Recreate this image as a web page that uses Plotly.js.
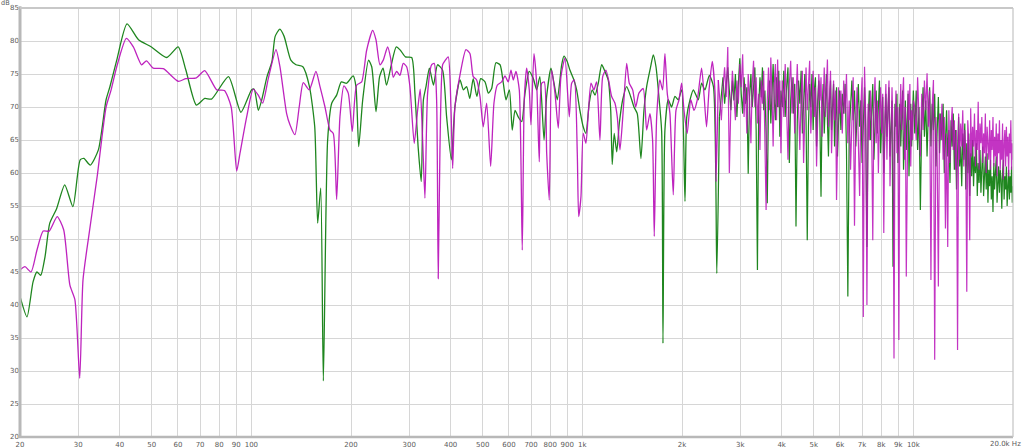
<!DOCTYPE html>
<html><head><meta charset="utf-8">
<script src="https://cdn.plot.ly/plotly-3.0.1.min.js"></script>
<style>html,body{margin:0;padding:0;background:#fff;}#chart{width:1024px;height:448px;}</style>
</head><body><div id="chart"></div>
<script>
// ---- data: [frequency Hz, level dB] ----
const greenLow = [[20,41.3],[21.0,38.2],[21.9,43.5],[22.5,45.0],[23.1,44.5],[23.8,47.3],[24.6,52.4],[25.8,54.6],[27.3,58.2],[28.9,54.9],[30.4,62.0],[31.2,62.2],[32.6,61.2],[34.5,63.5],[36.4,71.1],[37.4,73.1],[39.2,77.1],[42.1,82.6],[45.6,80.2],[49.9,79.1],[55.5,77.5],[60.1,79.1],[63.4,75.6],[68.2,70.3],[72.3,71.3],[75.8,71.2],[85.3,74.6],[93.0,69.2],[100.2,72.6],[102,72.7],[105,69.5],[107.5,71.1],[111.5,74.6],[115.4,76.9],[118,80.7],[121.9,81.8],[125.6,80.7],[131.6,77.1],[136.4,76.4],[143.1,76.1],[149.8,73.1],[155.4,67.0],[158.6,52.4],[162.0,57.7],[165.0,28.5],[170,65.0],[175,70.6],[181,71.8],[187,73.8],[194,73.6],[203,74.7],[207,73.1],[211,64.0],[217,71.1],[226,77.1],[231,76.1],[238,69.3],[244,74.6],[250,75.9],[256,73.3],[264,76.1],[274,79.1],[282,78.6],[292,77.6],[305,77.5],[312,72.1],[319,64.0],[326,58.7],[331,71.1],[337,73.1],[345,75.9],[355,73.3],[365,76.4],[378,75.6],[389,68.5],[402,62.0],[412,70.0],[427,74.1],[437,72.6],[447,73.1],[457,71.3],[468,74.3],[480,71.6],[493,74.3],[508,73.8],[520,72.1],[532,72.8],[548,76.7],[564,76.4],[577,73.6],[588,71.1],[602,72.6],[614,66.5],[626,69.5],[640,68.5],[656,67.8],[671,72.1],[691,75.4],[711,74.3],[728,72.6],[744,74.6],[766,65.0],[780,71.6],[804,75.9],[821,73.6],[840,71.1],[866,76.4],[880,77.7],[900,76.9],[917,75.6],[943,74.1],[961,72.6],[983,69.5],[1006,67.0],[1025,66.0],[1049,70.6],[1071,72.6],[1092,71.8],[1117,73.6],[1144,76.4],[1170,75.4],[1197,74.1],[1218,69.5],[1231,61.3],[1248,66.0],[1270,63.2],[1293,67.5],[1324,71.1],[1361,73.1],[1399,71.6],[1432,70.0],[1465,69.0],[1503,62.2],[1535,69.5],[1564,73.1],[1608,76.1],[1638,77.9],[1669,76.1],[1703,71.6],[1736,66.3],[1752,34.2],[1776,66.5],[1817,71.1],[1860,70.0],[1904,71.6],[1949,71.1],[1995,72.6],[2042,55.7],[2067,68.5],[2115,71.1],[2164,72.6],[2240,71.1],[2292,73.6],[2346,72.6],[2419,74.8],[2489,73.1],[2548,44.8],[2594,68.5]];

const magentaLow = [[20,45.3],[20.7,45.8],[21.6,45.0],[22.5,48.3],[23.5,51.2],[24.5,51.2],[25.9,53.4],[27.1,51.4],[28.3,43.0],[29.3,40.8],[30.3,28.9],[31.0,43.8],[32.3,50.6],[34.2,59.4],[36.4,70.0],[37.7,72.6],[39.2,76.1],[41.9,80.4],[44.0,79.1],[46.6,76.4],[48.2,77.0],[50.5,75.9],[54.2,75.8],[60.1,73.9],[63.4,74.3],[68.2,74.4],[72.3,75.5],[78.6,72.6],[82.9,72.5],[86.9,70.0],[90.3,60.3],[92.4,63.0],[96.8,68.5],[101.3,72.7],[104.9,71.8],[108.2,70.6],[112.5,74.3],[118.7,78.7],[122.0,76.1],[127.8,69.0],[130.8,67.3],[135.4,65.8],[139.5,70.0],[143.5,73.7],[149.6,72.6],[156.7,75.4],[161.2,73.1],[166.9,70.0],[172.8,66.5],[176.8,66.0],[181.0,56.0],[185.2,68.5],[190.4,73.2],[196.2,72.1],[201.8,66.3],[208.0,73.3],[215.4,73.8],[223.0,78.6],[232.5,81.6],[237.9,80.2],[244.6,76.4],[250.3,77.1],[258.0,79.1],[263.5,77.4],[268.3,74.5],[274.7,75.4],[281.1,74.8],[287.6,76.6],[294.5,76.1],[301.3,73.1],[310.5,64.5],[317.9,69.5],[323.7,72.7],[329.2,65.0],[334.5,56.2],[340.8,72.1],[350.4,76.4],[356.8,76.6],[362.8,71.1],[366.9,44.0],[371.3,63.5],[378.3,76.4],[384.4,77.0],[393.3,77.6],[400.8,70.0],[405.6,60.7],[412.1,70.0],[426.7,74.8],[444.9,78.7],[457.4,78.1],[468.0,74.6],[479.2,74.1],[490.5,71.6],[501.9,67.0],[513.9,70.6],[528.4,61.0],[540.7,70.6],[553.2,73.3],[570.4,73.8],[583.7,74.7],[597.2,73.8],[608.6,75.6],[618.4,74.1],[630.1,75.4],[644.8,72.6],[658.3,48.3],[667.6,71.1],[678.8,75.9],[691.2,72.6],[699.4,67.3],[714.2,78.1],[727.7,73.6],[741.0,61.7],[753.5,73.6],[767.3,73.8],[780.2,63.0],[794.3,55.9],[807.7,75.6],[826.5,72.1],[845.7,66.8],[861.7,74.6],[886.0,77.4],[913.0,68.5],[928.3,73.6],[945.3,74.1],[965.3,63.0],[974.7,53.4],[990.3,56.4],[1006,66.0],[1025,64.5],[1042,69.0],[1062,73.6],[1084,72.6],[1104,73.8],[1130,65.0],[1152,74.6],[1178,75.6],[1203,73.8],[1226,71.6],[1254,70.6],[1275,68.5],[1299,63.5],[1329,69.5],[1361,76.6],[1386,73.6],[1419,72.6],[1449,70.0],[1482,72.1],[1527,72.8],[1564,66.5],[1600,69.0],[1630,65.0],[1649,50.4],[1677,68.5],[1715,74.1],[1748,72.6],[1776,78.1],[1805,72.1],[1839,69.0],[1882,56.7],[1918,69.5],[1959,71.1],[1995,73.6],[2028,69.5],[2074,66.0],[2125,71.1],[2174,69.5],[2225,71.1],[2292,75.9],[2333,71.6],[2372,67.0],[2414,72.6],[2468,76.9],[2517,72.1],[2535,58.7],[2575,74.1]];

// high-frequency part: shared frequency list (Hz) and levels (dB) of both traces
const hfHz = [
2630,2660,2690,2720,2750,2780,2810,2840,2870,2900,2930,2960,2990,3020,3050,3080,3110,3140,3170,3200,
3230,3260,3290,3320,3350,3380,3410,3440,3470,3500,3530,3560,3590,3620,3650,3680,3710,3740,3770,3800,
3830,3860,3890,3920,3950,3980,
4020,4060,4100,4140,4180,4220,4260,4300,4340,4380,4420,4460,4500,4540,4580,4620,4660,4700,4740,4780,
4820,4860,4900,4940,4980,5020,5060,5100,5140,5180,5220,5260,5300,5340,5380,5420,5460,5500,5540,5580,
5620,5660,5700,5740,5780,5820,5860,5900,5940,5980,
6040,6100,6160,6220,6280,6340,6400,6460,6520,6580,6640,6700,6760,6820,6880,6940,7000,7060,7120,7180,
7240,7300,7360,7420,7480,7540,7600,7660,7720,7780,7840,7900,7960,8020,8080,8140,8200,8260,8320,8380,
8440,8500,8560,8620,8680,8740,8800,8860,8920,8980,9040,9100,9160,9220,9280,9340,9400,9460,9520,9580,
9640,9700,9760,9820,9880,9940,10000,
10100,10200,10300,10400,10500,10600,10700,10800,10900,11000,11100,11200,11300,11400,11500,11600,11700,11800,11900,12000,
12100,12200,12300,12400,12500,12600,12700,12800,12900,13000,13100,13200,13300,13400,13500,13600,13700,13800,13900,14000,
14100,14200,14300,14400,14500,14600,14700,14800,14900,15000,15100,15200,15300,15400,15500,15600,15700,15800,15900,16000,
16100,16200,16300,16400,16500,16600,16700,16800,16900,17000,17100,17200,17300,17400,17500,17600,17700,17800,17900,18000,
18100,18200,18300,18400,18500,18600,18700,18800,18900,19000,19100,19200,19300,19400,19500,19600,19700,19800,19900,20000];

const greenHfDb = [
72.0,74.5,70.5,73.0,76.0,72.5,69.5,74.0,71.0,75.0,68.5,73.5,77.4,72.0,69.0,74.5,70.5,73.0,59.9,71.5,
75.0,70.0,73.5,76.0,66.5,45.3,70.0,74.5,71.5,76.0,69.5,72.5,66.0,55.4,70.5,74.0,67.5,73.0,76.5,71.0,
68.0,74.5,70.0,75.5,65.5,72.5,
70.0,75.5,68.5,73.0,76.0,61.5,71.0,74.5,69.0,73.5,51.9,68.0,74.0,70.5,75.5,66.0,72.0,75.0,68.5,49.8,
67.0,73.5,70.0,75.0,66.5,72.5,74.5,64.0,71.0,74.0,67.5,56.4,69.5,73.5,66.0,72.0,75.0,68.0,62.5,71.0,
74.0,66.5,70.5,73.5,64.0,70.0,73.0,62.5,69.5,72.5,
66.5,72.0,69.0,73.5,63.5,41.3,66.0,71.5,74.0,68.0,72.5,64.0,70.0,73.5,67.0,71.0,61.5,69.5,73.0,66.5,
48.8,68.0,72.5,65.0,70.5,73.5,62.0,69.0,72.5,66.0,70.5,74.0,63.0,68.5,71.5,60.0,67.5,72.0,65.5,70.0,
73.0,62.5,68.0,71.0,45.8,64.5,70.5,67.0,72.0,61.5,66.0,70.5,64.0,69.5,72.5,60.5,67.0,71.0,63.5,68.5,
72.0,59.5,66.5,70.5,64.0,69.0,72.5,
66.0,72.5,63.5,70.0,54.4,68.0,73.0,65.5,71.0,62.5,69.5,73.0,64.0,70.5,66.5,72.0,61.0,68.5,71.5,63.0,
69.0,65.0,70.5,60.0,67.0,69.5,62.5,66.5,58.5,68.0,64.0,69.0,60.5,66.5,57.5,65.5,68.5,61.0,64.0,58.0,
66.0,62.0,67.5,57.5,64.5,60.0,66.0,56.5,63.0,59.5,65.0,58.0,62.5,60.0,64.5,56.5,61.5,58.5,63.5,57.0,
61.0,64.0,56.5,60.0,62.5,57.5,63.0,55.5,60.5,58.0,62.0,56.0,59.5,54.1,61.5,57.5,60.0,62.5,55.5,59.0,
61.0,57.0,60.5,59.0,54.6,60.0,62.0,56.0,59.5,57.5,61.0,55.0,58.5,60.5,56.0,59.5,57.0,61.0,55.5,58.0];

const magentaHfDb = [
68.0,73.0,76.0,71.5,79.1,60.0,70.5,75.5,72.0,68.0,74.0,70.5,76.5,73.0,78.0,68.5,73.5,66.0,75.0,71.0,
64.5,73.5,77.0,70.0,74.5,67.5,72.0,63.5,74.0,70.5,75.5,66.0,54.4,71.0,76.0,69.5,77.5,72.0,64.0,73.5,
76.5,68.0,77.2,70.0,74.0,63.0,
74.0,68.5,76.5,70.0,62.0,73.5,77.0,69.0,74.5,66.0,72.5,76.5,70.0,63.5,72.0,75.5,61.5,71.5,76.0,69.5,
74.0,77.0,66.0,72.0,75.5,68.5,73.0,61.0,70.5,75.0,71.0,74.5,65.5,72.0,76.0,68.5,73.0,77.2,67.0,72.5,
75.5,63.0,70.5,74.0,68.0,72.5,55.9,67.0,73.0,69.0,
72.5,66.0,74.0,69.0,75.0,64.5,71.0,60.5,69.5,74.5,52.0,68.0,73.0,66.5,56.5,70.0,74.5,38.2,76.1,68.5,
40.0,70.5,65.0,72.5,67.5,49.8,70.0,74.5,64.5,71.0,60.0,69.0,73.0,66.0,72.0,50.9,68.5,73.5,62.0,70.0,
74.0,58.0,69.0,73.0,66.0,31.9,67.5,72.5,63.0,70.0,34.7,68.0,73.5,66.5,71.5,74.5,62.0,70.0,44.3,66.5,
72.5,68.0,73.5,61.0,69.5,65.0,71.0,
70.0,65.0,74.5,68.0,62.5,72.0,66.5,74.0,69.5,75.1,67.0,72.5,43.8,70.0,74.1,31.7,68.5,63.0,42.8,69.0,
65.0,70.5,62.0,68.5,51.6,66.0,48.8,69.5,61.5,67.0,70.0,63.5,68.0,60.5,66.5,33.2,69.0,62.0,67.5,64.0,
69.5,61.0,66.5,63.0,42.0,68.0,65.0,49.8,69.8,62.5,67.0,64.0,69.0,61.0,66.5,63.5,70.8,60.5,67.5,64.5,
68.5,61.5,66.0,63.0,69.0,60.0,67.0,64.5,62.0,68.0,60.5,66.5,63.5,68.5,61.0,65.5,62.5,67.5,59.5,66.0,
63.0,68.0,60.5,65.0,62.0,67.5,59.0,64.5,66.5,61.0,67.0,62.5,65.5,59.5,66.0,63.0,68.0,60.5,64.5,62.0];

const xTickVals = [20,30,40,50,60,70,80,90,100,200,300,400,500,600,700,800,900,1000,2000,3000,4000,5000,6000,7000,8000,9000,10000,20000];
const xTickText = ['20','30','40','50','60','70','80','90','100','200','300','400','500','600','700','800','900','1k','2k','3k','4k','5k','6k','7k','8k','9k','10k',''];
const yTickVals = [20,25,30,35,40,45,50,55,60,65,70,75,80,85];

// ---- build traces: smooth low part, straight segments for the dense part ----
const GREEN = '#1f861f', MAGENTA = '#b810b8';
function lowTrace(pts, color, op) {
  return {x: pts.map(p => p[0]), y: pts.map(p => p[1]), type: 'scatter', mode: 'lines',
    line: {color: color, width: 1.3, shape: 'spline', smoothing: 0.6}, opacity: op, hoverinfo: 'skip'};
}
function hfTrace(pts, db, color, op) {
  const last = pts[pts.length - 1];
  return {x: [last[0]].concat(hfHz), y: [last[1]].concat(db), type: 'scatter', mode: 'lines',
    line: {color: color, width: 1.2}, opacity: op, hoverinfo: 'skip'};
}
const traces = [
  lowTrace(greenLow, GREEN, 1), hfTrace(greenLow, greenHfDb, GREEN, 1),
  lowTrace(magentaLow, MAGENTA, 0.92), hfTrace(magentaLow, magentaHfDb, MAGENTA, 0.85)
];

const tickFont = {family: 'DejaVu Sans, Arial, sans-serif', size: 7, color: '#5a5a5a'};
const layout = {
  width: 1024, height: 448,
  margin: {l: 20, r: 11, t: 8, b: 11, pad: 0},
  paper_bgcolor: '#ffffff', plot_bgcolor: '#ffffff',
  showlegend: false,
  xaxis: {type: 'log', range: [Math.log10(20), Math.log10(20000)], tickmode: 'array', tickvals: xTickVals, ticktext: xTickText,
    showgrid: true, gridcolor: '#d6d6d6', gridwidth: 1, zeroline: false, showline: false, ticks: '',
    tickfont: tickFont, tickangle: 0, ticklabelstandoff: 2, fixedrange: true},
  yaxis: {range: [20, 85], tickmode: 'array', tickvals: yTickVals, showgrid: true, gridcolor: '#d6d6d6', gridwidth: 1,
    zeroline: false, showline: false, ticks: '', tickfont: tickFont, fixedrange: true},
  shapes: [
    {type: 'line', xref: 'paper', yref: 'paper', x0: 0, x1: 0, y0: 0, y1: 1.004, line: {color: '#b8b8b8', width: 3}},
    {type: 'line', xref: 'paper', yref: 'paper', x0: -0.002, x1: 1, y0: 0, y1: 0, line: {color: '#b8b8b8', width: 2.5}},
    {type: 'line', xref: 'paper', yref: 'paper', x0: 0, x1: 1, y0: 1, y1: 1, line: {color: '#c8c8c8', width: 2}},
    {type: 'line', xref: 'paper', yref: 'paper', x0: 1, x1: 1, y0: 0, y1: 1, line: {color: '#c8c8c8', width: 1.3}}
  ],
  annotations: [
    {text: 'dB', xref: 'paper', yref: 'paper', x: -0.0145, y: 1.0105, xanchor: 'center', yanchor: 'middle', showarrow: false, font: {family: tickFont.family, size: 6.5, color: tickFont.color}},
    {text: '20.0k Hz', xref: 'paper', yref: 'paper', x: 1.0105, y: -0.016, xanchor: 'right', yanchor: 'middle', showarrow: false, font: tickFont}
  ]
};

Plotly.newPlot('chart', traces, layout, {displayModeBar: false, staticPlot: true});
</script>
</body></html>
